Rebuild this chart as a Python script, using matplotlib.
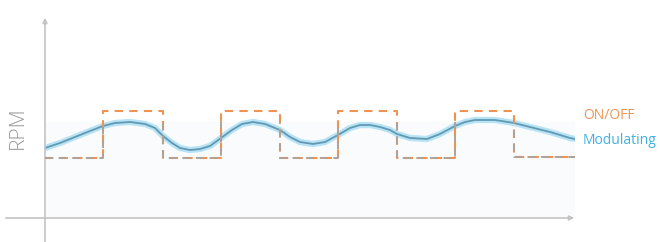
import matplotlib.pyplot as plt
from matplotlib.patches import Rectangle

# time axis (0 = y axis), rpm = height above the x axis
onoff_t = [0, 58, 58, 118, 118, 176, 176, 235, 235, 293, 293, 352, 352, 410, 410, 469, 469, 530]
onoff_rpm = [60, 60, 107, 107, 60, 60, 107, 107, 60, 60, 107, 107, 60, 60, 107, 107, 61, 61]

mod_t = [0, 15, 30, 45, 58, 70, 85, 100, 110, 118, 127, 135, 145, 155, 165, 176, 187, 197,
         208, 220, 235, 245, 255, 268, 280, 293, 305, 315, 325, 335, 345, 352, 365, 382,
         395, 410, 420, 430, 450, 469, 485, 505, 525, 530]
mod_rpm = [70, 75, 81, 87, 92, 95, 96, 94, 90, 82, 75, 70, 68, 69, 72, 80, 88, 94,
           96, 94, 88, 81, 76, 74, 76, 83, 90, 93, 93, 91, 88, 84, 80, 79,
           84, 92, 96, 98, 98, 95, 91, 86, 80, 79]

band_top = 96

fig = plt.figure(figsize=(6.6, 2.42), dpi=100)
ax = fig.add_axes([45 / 660, 24 / 242, 530 / 660, 203 / 242])
ax.set_xlim(0, 530)
ax.set_ylim(0, 203)
ax.axis('off')

ax.axhspan(0, band_top, color='#fafbfc', zorder=0)

ax.plot(mod_t, mod_rpm, color='#b8e3f5', lw=4.5, solid_capstyle='round', zorder=2)
ax.plot(mod_t, mod_rpm, color='#6199b3', lw=1.3, zorder=3)

# on/off: orange above the band, greyish where it runs through it
ax.plot(onoff_t, onoff_rpm, color='#ef9352', lw=1.5, dashes=(4, 3), zorder=4)
low, = ax.plot(onoff_t, onoff_rpm, color='#b0a197', lw=1.4, dashes=(4, 3), zorder=5)
clip = Rectangle((-5, -5), 545, band_top + 5, transform=ax.transData)
low.set_clip_path(clip)

# axes with arrows
ax.annotate('', xy=(0, 203), xytext=(0, -30), annotation_clip=False,
            arrowprops=dict(arrowstyle='-|>', color='#c4c4c4', lw=1.2, mutation_scale=7))
ax.annotate('', xy=(532, 0), xytext=(-42, 0), annotation_clip=False,
            arrowprops=dict(arrowstyle='-|>', color='#c4c4c4', lw=1.2, mutation_scale=7))

fig.text(18 / 660, 1 - 128 / 242, 'RPM', rotation=90, ha='center', va='center',
         fontsize=15, color='#999999', family='Open Sans', fontweight='light')
fig.text(583 / 660, 1 - 116 / 242, 'ON/OFF', ha='left', va='center',
         fontsize=10, color='#ef9352', family='Open Sans')
fig.text(583 / 660, 1 - 141 / 242, 'Modulating', ha='left', va='center',
         fontsize=10, color='#3fb1e3', family='Open Sans')

fig.savefig('out.png', dpi=100)
